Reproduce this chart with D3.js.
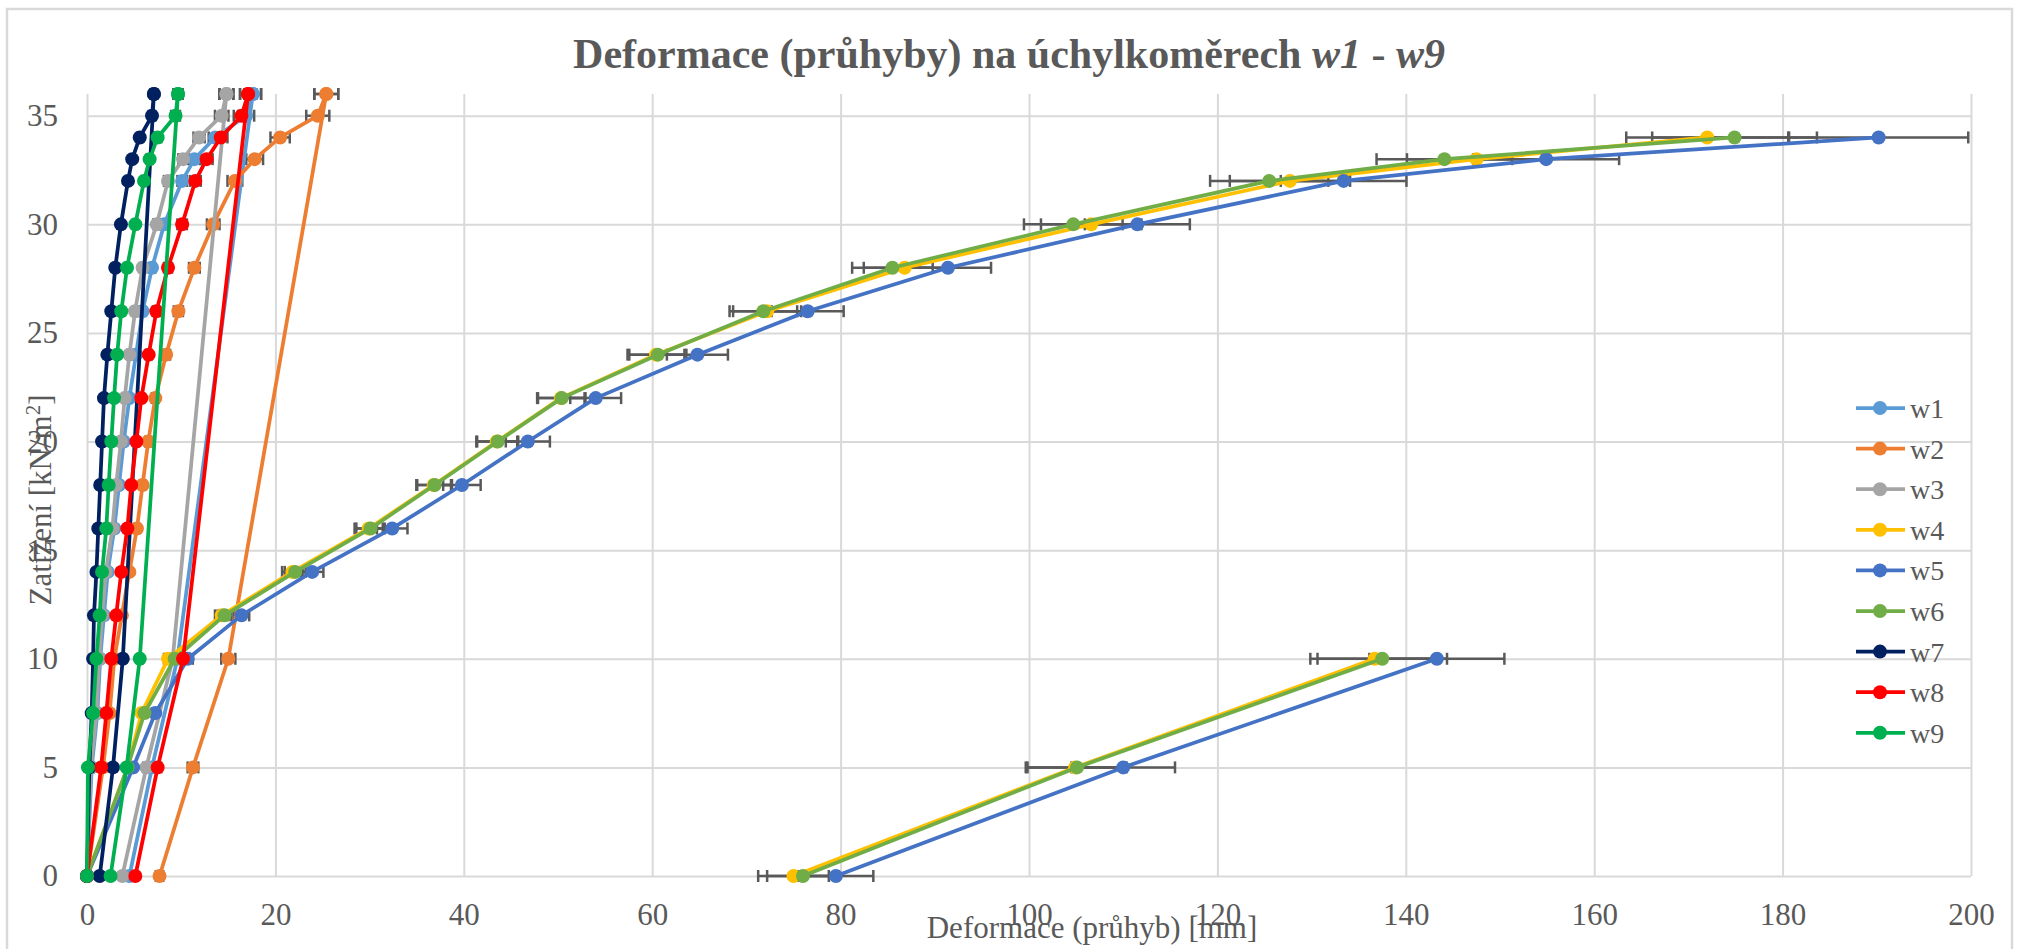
<!DOCTYPE html>
<html><head><meta charset="utf-8">
<script src="https://cdn.jsdelivr.net/npm/d3@7"></script>
<style>body{margin:0;background:#fff}svg{display:block}</style>
</head><body>
<svg id="chart" width="2022" height="949"></svg>
<script>
// ---------- DATA ----------
const loadSteps   = [0, 5, 7.5, 10, 12, 14, 16, 18, 20, 22, 24, 26, 28, 30, 32, 33, 34, 35, 36];
const unloadSteps = [36, 10, 5, 0];

const seriesNames  = ["w1","w2","w3","w4","w5","w6","w7","w8","w9"];
const seriesColors = ["#5B9BD5","#ED7D31","#A5A5A5","#FFC000","#4472C4","#70AD47","#002060","#FF0000","#00B050"];

// deflection [mm] while loading (one value per loadSteps entry)
const w1Load = [0, 0.5, 1.1, 1.4, 1.8, 2.2, 2.9, 3.4, 3.9, 4.5, 5.2, 5.9, 6.9, 8.2, 10.1, 11.4, 13.6, 16.9, 17.6];
const w2Load = [0, 1.7, 2.4, 2.9, 3.7, 4.5, 5.3, 5.9, 6.5, 7.25, 8.4, 9.7, 11.4, 13.4, 15.7, 17.8, 20.5, 24.5, 25.4];
const w3Load = [0, 0.4, 1.0, 1.3, 1.6, 2.0, 2.7, 3.1, 3.6, 4.0, 4.5, 5.1, 5.9, 7.4, 8.6, 10.2, 11.9, 14.3, 14.8];
const w4Load = [0, 4.3, 5.8, 8.6, 14.3, 21.8, 29.9, 36.8, 43.5, 50.3, 60.4, 72.2, 86.8, 106.6, 127.7, 147.5, 172.0, null, null];
const w5Load = [0, 4.9, 7.25, 10.7, 16.4, 23.9, 32.4, 39.8, 46.8, 54.0, 64.8, 76.5, 91.4, 111.5, 133.4, 154.9, 190.2, null, null];
const w6Load = [0, 4.3, 6.1, 9.3, 14.6, 22.1, 30.1, 36.9, 43.6, 50.4, 60.6, 71.8, 85.5, 104.7, 125.5, 144.1, 174.9, null, null];
const w7Load = [0, 0.25, 0.5, 0.65, 0.74, 1.0, 1.2, 1.4, 1.6, 1.8, 2.16, 2.58, 3.0, 3.6, 4.35, 4.8, 5.6, 6.9, 7.1];
const w8Load = [0, 1.5, 2.05, 2.58, 3.1, 3.64, 4.28, 4.7, 5.24, 5.77, 6.55, 7.36, 8.6, 10.1, 11.5, 12.7, 14.2, 16.4, 17.1];
const w9Load = [0, 0.1, 0.64, 1.0, 1.35, 1.6, 2.05, 2.3, 2.58, 2.87, 3.2, 3.64, 4.25, 5.13, 6.05, 6.65, 7.5, 9.4, 9.66];

// deflection [mm] while unloading (one value per unloadSteps entry)
const w1Unload = [17.6, 9.6, 6.9, 4.5];
const w2Unload = [25.4, 15.0, 11.25, 7.7];
const w3Unload = [14.8, 9.1, 6.3, 3.75];
const w4Unload = [null, 136.7, 104.9, 75.0];
const w5Unload = [null, 143.3, 110.0, 79.5];
const w6Unload = [null, 137.5, 105.1, 76.0];
const w7Unload = [7.1, 3.8, 2.76, 1.35];
const w8Unload = [17.1, 10.2, 7.5, 5.13];
const w9Unload = [9.66, 5.6, 4.2, 2.5];

const errorPercent = 5;   // percentage error bars (x direction)

const xTicks = [0, 20, 40, 60, 80, 100, 120, 140, 160, 180, 200];
const yTicks = [0, 5, 10, 15, 20, 25, 30, 35];

const titleText  = "Deformace (průhyby) na úchylkoměrech ";
const xAxisTitle = "Deformace (průhyb) [mm]";
const yAxisTitle = "Zatížení [kN/m";

// ---------- BUILD ----------
const loadArrays   = [w1Load,w2Load,w3Load,w4Load,w5Load,w6Load,w7Load,w8Load,w9Load];
const unloadArrays = [w1Unload,w2Unload,w3Unload,w4Unload,w5Unload,w6Unload,w7Unload,w8Unload,w9Unload];
const series = seriesNames.map((name, i) => ({
  name, color: seriesColors[i],
  pts: loadSteps.map((q, j) => ({x: loadArrays[i][j], y: q}))
        .concat(unloadSteps.map((q, j) => ({x: unloadArrays[i][j], y: q})))
}));

const svg = d3.select("#chart");
const W = 2022, H = 949;
const L = 87, R = 1971, T = 94, B = 876;
const x = d3.scaleLinear().domain([0, 200]).range([L, R]);
const y = d3.scaleLinear().domain([0, 36]).range([B, T]);
const textCol = "#595959";
const font = "'Liberation Serif','Times New Roman',serif";

svg.append("rect").attr("width", W).attr("height", H).attr("fill", "#fff");
svg.append("rect").attr("x", 7).attr("y", 9).attr("width", 2005).attr("height", 960)
  .attr("fill", "none").attr("stroke", "#D9D9D9").attr("stroke-width", 2.5);

// gridlines + tick labels
const gx = svg.append("g").attr("transform", `translate(0,${B})`)
  .call(d3.axisBottom(x).tickValues(xTicks).tickSize(-(B - T)).tickPadding(27).tickFormat(d3.format("d")));
const gy = svg.append("g").attr("transform", `translate(${L},0)`)
  .call(d3.axisLeft(y).tickValues(yTicks).tickSize(-(R - L)).tickPadding(29).tickFormat(d3.format("d")));
[gx, gy].forEach(g => {
  g.select(".domain").remove();
  g.selectAll(".tick line").attr("stroke", "#D9D9D9").attr("stroke-width", 2);
  g.selectAll(".tick text").attr("fill", textCol).style("font-family", font).style("font-size", "31px");
});

// error bars
const eg = svg.append("g");
series.forEach(s => {
  s.pts.filter(p => p.x != null).forEach(p => {
    const e = Math.abs(p.x) * errorPercent / 100;
    if (e <= 0) return;
    const x0 = x(p.x - e), x1 = x(p.x + e), yy = y(p.y);
    eg.append("line").attr("x1", x0).attr("x2", x1).attr("y1", yy).attr("y2", yy)
      .attr("stroke", "#595959").attr("stroke-width", 2.5);
    [x0, x1].forEach(xx => eg.append("line").attr("x1", xx).attr("x2", xx)
      .attr("y1", yy - 6).attr("y2", yy + 6).attr("stroke", "#595959").attr("stroke-width", 2.5));
  });
});

// series
const line = d3.line().defined(p => p.x != null).x(p => x(p.x)).y(p => y(p.y));
series.forEach(s => {
  const g = svg.append("g");
  g.append("path").attr("d", line(s.pts)).attr("fill", "none")
    .attr("stroke", s.color).attr("stroke-width", 3.75).attr("stroke-linejoin", "round");
  g.selectAll("circle").data(s.pts.filter(p => p.x != null)).join("circle")
    .attr("cx", p => x(p.x)).attr("cy", p => y(p.y)).attr("r", 7).attr("fill", s.color);
});

// title
const tt = svg.append("text").attr("x", 1009).attr("y", 68).attr("text-anchor", "middle")
  .attr("fill", textCol).style("font-family", font).style("font-size", "42px").style("font-weight", "bold");
tt.append("tspan").text(titleText);
tt.append("tspan").style("font-style", "italic").text("w1");
tt.append("tspan").text(" - ");
tt.append("tspan").style("font-style", "italic").text("w9");

// axis titles
svg.append("text").attr("x", 1092).attr("y", 938).attr("text-anchor", "middle")
  .attr("fill", textCol).style("font-family", font).style("font-size", "31px").text(xAxisTitle);
const yt = svg.append("text").attr("transform", "translate(51,500) rotate(-90)").attr("text-anchor", "middle")
  .attr("fill", textCol).style("font-family", font).style("font-size", "31px");
yt.append("tspan").text(yAxisTitle);
yt.append("tspan").attr("dy", -11).style("font-size", "21px").text("2");
yt.append("tspan").attr("dy", 11).text("]");

// legend
const lg = svg.append("g");
series.forEach((s, i) => {
  const cy = 408 + i * 40.6;
  lg.append("line").attr("x1", 1856).attr("x2", 1905).attr("y1", cy).attr("y2", cy)
    .attr("stroke", s.color).attr("stroke-width", 3.75);
  lg.append("circle").attr("cx", 1880).attr("cy", cy).attr("r", 7).attr("fill", s.color);
  lg.append("text").attr("x", 1910).attr("y", cy + 10).attr("fill", textCol)
    .style("font-family", font).style("font-size", "28px").text(s.name);
});
</script>
</body></html>
